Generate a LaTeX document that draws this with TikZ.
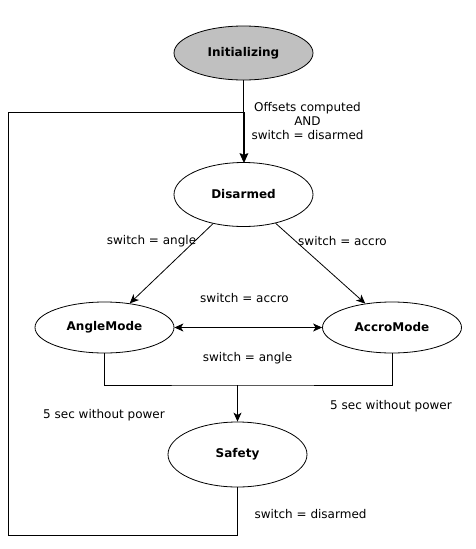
\documentclass[tikz,border=0pt]{standalone}
\usepackage{fontspec}
\setmainfont{DejaVu Sans}
\usetikzlibrary{shapes.geometric,arrows.meta}
\begin{document}
\begin{tikzpicture}[x=1pt,y=-1pt,
  state/.style={draw,ellipse,line width=0.8pt,minimum width=139pt,minimum height=52pt,inner sep=0pt,font=\fontsize{12}{14}\selectfont\bfseries},
  lbl/.style={inner sep=0pt,font=\fontsize{12}{14}\selectfont,align=center},
  conn/.style={line width=0.8pt},
  tip/.style={-{Stealth[length=9pt,width=8pt,inset=2.5pt]}}
]
\useasboundingbox (0,0) rectangle (476,549);
\node[state,fill={rgb,255:red,192;green,192;blue,192},minimum height=54pt] (init) at (243.5,53) {Initializing};
\node[state,minimum height=64pt] (dis) at (243.5,194.5) {Disarmed};
\node[state,minimum height=51pt] (angle) at (104.5,327.5) {AngleMode};
\node[state,minimum height=51pt] (accro) at (392,327.5) {AccroMode};
\node[state,minimum height=65pt] (safe) at (237.5,454.5) {Safety};

\coordinate (j1) at (243.5,112);
\coordinate (c1) at (8.5,112);
\coordinate (c2) at (8.5,535);
\coordinate (c3) at (237.5,535);
\coordinate (m) at (237.5,385);

\draw[conn,tip] (init) -- (dis);
\draw[conn,tip] (safe.south) -- (c3) -- (c2) -- (c1) -- ([xshift=0.9pt]j1) -- ([xshift=0.9pt]dis.north);
\draw[conn,tip] (dis) -- (angle);
\draw[conn,tip] (dis) -- (accro);
\draw[conn,{Stealth[length=9pt,width=8pt,inset=2.5pt]}-{Stealth[length=9pt,width=8pt,inset=2.5pt]}] (angle) -- (accro);
\draw[conn] (angle.south) |- (m) -| (accro.south);
\draw[conn,tip] (m) -- (safe);

\node[lbl] (l1) at (307.5,121) {Offsets computed\\AND\\switch = disarmed};
\node[lbl] (l2) at (151.5,241) {switch = angle};
\node[lbl] (l3) at (342.5,241) {switch = accro};
\node[lbl] (l4) at (244.5,298.5) {switch = accro};
\node[lbl] (l5) at (247.5,358) {switch = angle};
\node[lbl] (l6) at (391,406) {5 sec without power};
\node[lbl] (l7) at (104,415) {5 sec without power};
\node[lbl] (l8) at (310.5,514.5) {switch = disarmed};
\end{tikzpicture}
\end{document}
